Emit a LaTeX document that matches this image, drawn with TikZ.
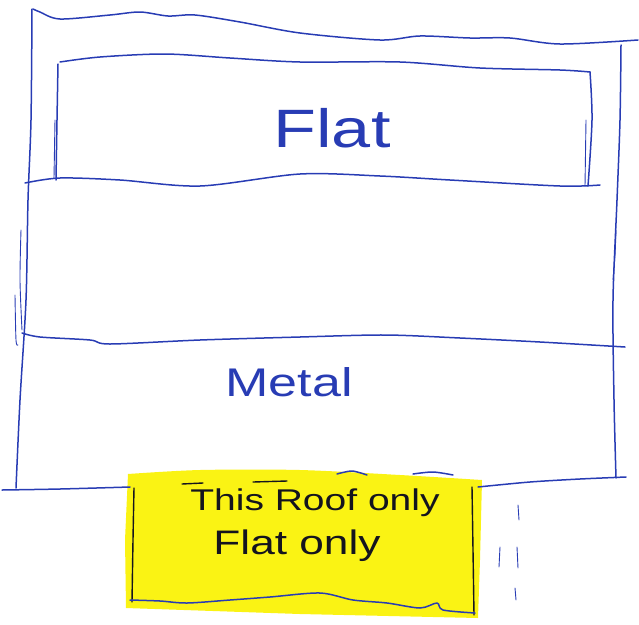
\documentclass[tikz,border=0pt]{standalone}
\usepackage{fontspec}
\setmainfont{Liberation Sans}
\newfontfamily\handfont[FakeStretch=1.3]{Liberation Sans}
\usepackage{xcolor}
\definecolor{penblue}{RGB}{40,60,180}
\definecolor{penblack}{RGB}{20,20,30}
\definecolor{hiyellow}{RGB}{250,243,20}
\usetikzlibrary{positioning}

\tikzset{
  ink/.style={draw=penblue, line width=1.5pt, line cap=round, line join=round},
  thinink/.style={draw=penblue, line width=0.9pt, line cap=round},
  blackink/.style={draw=penblack, line width=1.4pt, line cap=round},
  label/.style={text=penblue, inner sep=0pt},
  note/.style={text=penblack, inner sep=0pt}
}

\begin{document}
\begin{tikzpicture}[x=1pt, y=-1pt]
  \useasboundingbox (0,0) rectangle (639,624);

  % Highlighted note area
  \fill[hiyellow] plot[smooth] coordinates {(128,474) (200,470) (300,470) (400,475) (482,480)}
       -- (480,560) -- (478,618) -- (300,614) -- (126,608) -- (125,540) -- cycle;

  % Outer roof outline
  \draw[ink] plot[smooth] coordinates {(33,9) (40,12) (60,19) (110,15) (140,12) (168,16)
       (195,15) (240,22) (300,33) (380,40) (420,36) (470,38) (510,38) (560,44) (638,40)};
  \draw[ink] plot[smooth] coordinates {(32,9) (31,120) (28,200) (26,300) (20,400) (16,488)};
  \draw[ink] plot[smooth] coordinates {(621,45) (620,120) (617,200) (613,300) (614,400) (616,478)};
  \draw[ink] plot[smooth] coordinates {(2,490) (60,489) (130,487)};
  \draw[ink] plot[smooth] coordinates {(478,487) (530,482) (580,479) (626,477)};

  % Flat section
  \draw[ink] plot[smooth] coordinates {(60,62) (100,57) (165,54) (230,58) (300,62) (400,62)
       (480,68) (560,70) (590,72)};
  \draw[ink] plot[smooth] coordinates {(58,64) (57,120) (56,180)};
  \draw[ink] plot[smooth] coordinates {(590,72) (592,120) (588,186)};
  \draw[thinink] (55,120) -- (54,178);
  \draw[thinink] (586,120) -- (585,186);
  \draw[ink] plot[smooth] coordinates {(25,183) (60,178) (120,180) (200,186) (300,174)
       (380,176) (450,180) (560,186) (600,185)};

  % Metal section
  \draw[thinink] plot[smooth] coordinates {(21,230) (20,280) (22,330)};
  \draw[thinink] plot[smooth] coordinates {(15,295) (16,340) (18,345)};
  \draw[thinink] plot[smooth] coordinates {(616,230) (615,255) (613,280)};
  \draw[ink] plot[smooth] coordinates {(22,333) (40,337) (90,340) (110,344) (200,340)
       (300,337) (385,335) (460,338) (540,342) (625,347)};

  % Labels
  \node[label, font=\handfont\fontsize{54}{58}\selectfont] (flat) at (332,128) {Flat};
  \node[label, font=\handfont\fontsize{40}{46}\selectfont] (metal) at (289,382) {Metal};

  % Note box
  \draw[ink] plot[smooth] coordinates {(337,474) (352,471) (367,475)};
  \draw[ink] plot[smooth] coordinates {(413,474) (433,472) (453,475)};
  \draw[blackink] (182,484) -- (203,483);
  \draw[blackink] (253,482) -- (287,481);
  \draw[blackink] plot[smooth] coordinates {(134,488) (133,540) (132,602)};
  \draw[blackink] plot[smooth] coordinates {(472,487) (473,550) (474,615)};
  \draw[ink] plot[smooth] coordinates {(130,600) (160,601) (187,603) (230,600) (270,597)
       (320,593) (353,600) (387,603) (420,608) (437,603) (443,610) (475,613)};
  \node[note, font=\handfont\fontsize{30}{34}\selectfont] (roofnote) at (315,503) {This Roof only};
  \node[note, font=\handfont\fontsize{34}{38}\selectfont] (flatnote) at (297,546) {Flat only};

  % Marks beside the note
  \draw[thinink] (518,505) -- (519,520);
  \draw[thinink] (500,547) -- (499,567);
  \draw[thinink] (517,547) -- (518,568);
  \draw[thinink] (515,588) -- (516,600);
\end{tikzpicture}
\end{document}
